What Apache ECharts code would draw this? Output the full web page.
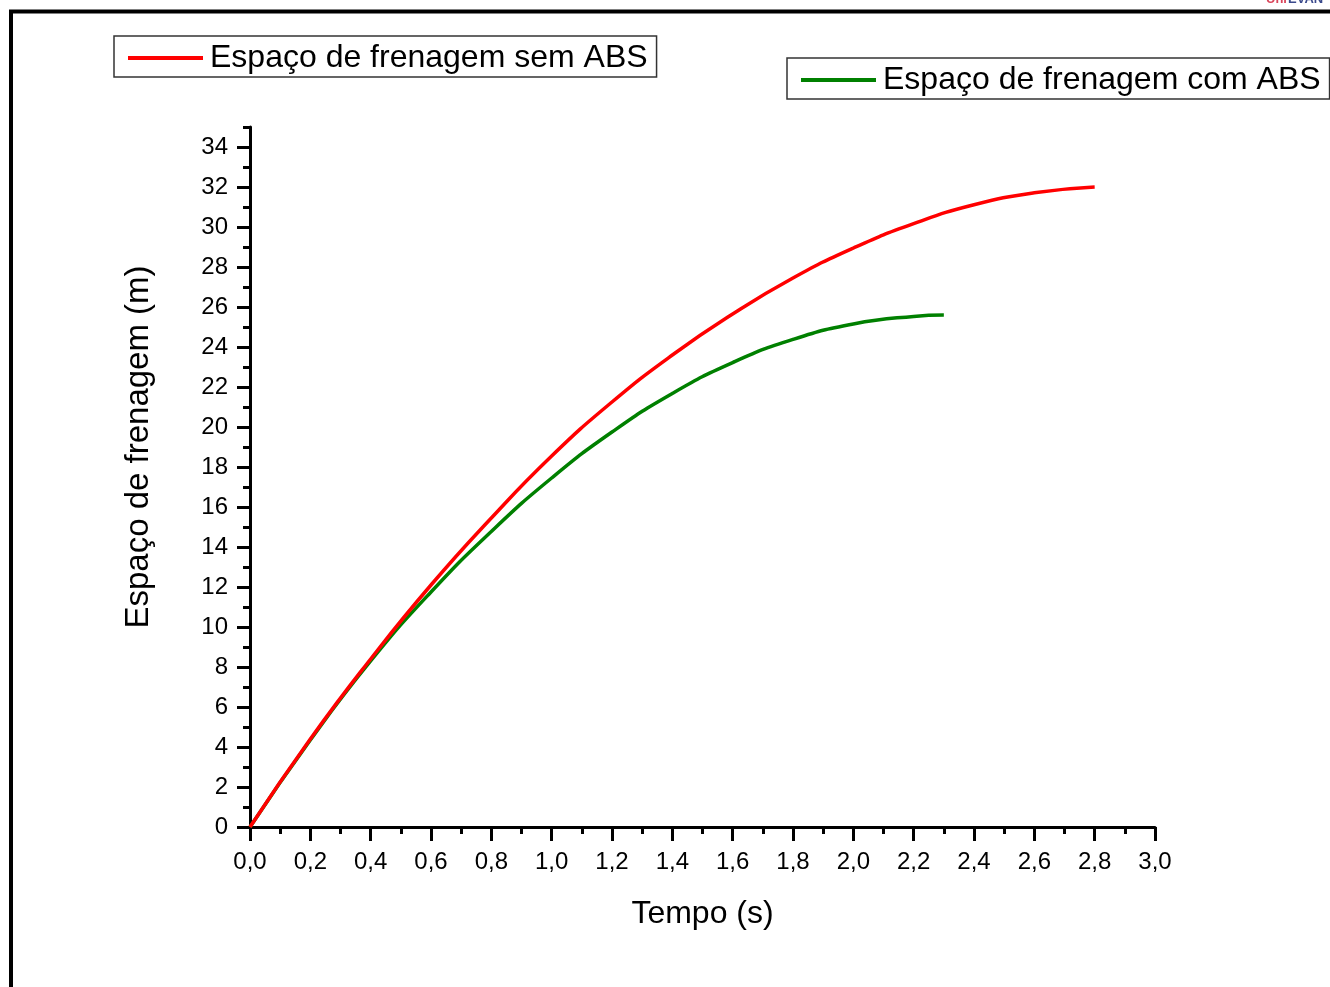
<!DOCTYPE html>
<html>
<head>
<meta charset="utf-8">
<script src="https://cdn.jsdelivr.net/npm/echarts@6/dist/echarts.min.js"></script>
<style>
html,body{margin:0;padding:0;background:#fff;}
#chart{width:1330px;height:987px;}
</style>
</head>
<body>
<div id="chart"></div>
<script>
// ---- data ----
const seriesNames = ['Espaço de frenagem sem ABS', 'Espaço de frenagem com ABS'];
const timeSemABS = [0,0.2,0.4,0.6,0.8,1.0,1.2,1.4,1.6,1.8,2.0,2.2,2.4,2.6,2.8];
const espacoSemABS = [0,4.4,8.4,12.1,15.45,18.55,21.25,23.6,25.65,27.45,28.95,30.17,31.11,31.71,32.0];
const timeComABS = [0,0.2,0.4,0.6,0.8,1.0,1.2,1.4,1.6,1.8,2.0,2.2,2.3];
const espacoComABS = [0,4.35,8.3,11.75,14.78,17.45,19.75,21.68,23.22,24.38,25.15,25.53,25.6];
const xTicks = [0,0.2,0.4,0.6,0.8,1.0,1.2,1.4,1.6,1.8,2.0,2.2,2.4,2.6,2.8,3.0];
const yTicks = [0,2,4,6,8,10,12,14,16,18,20,22,24,26,28,30,32,34];
const xTitle = 'Tempo (s)';
const yTitle = 'Espaço de frenagem (m)';

const semData = timeSemABS.map((t,i)=>[t, espacoSemABS[i]]);
const comData = timeComABS.map((t,i)=>[t, espacoComABS[i]]);

const chart = echarts.init(document.getElementById('chart'));
const FONT = '"Liberation Sans", Arial, sans-serif';
const legendCommon = {
  orient: 'horizontal',
  icon: 'rect',
  itemWidth: 75,
  itemHeight: 4,
  borderColor: '#333',
  borderWidth: 1.5,
  borderRadius: 0,
  padding: [5, 9, 2, 14],
  backgroundColor: '#fff',
  textStyle: {fontFamily: FONT, fontSize: 32, color: '#000', lineHeight: 34, padding: [0,0,0,2]},
  selectedMode: false
};
chart.setOption({
  backgroundColor: '#fff',
  animation: false,
  grid: {left: 250, right: 175, top: 127, bottom: 160, containLabel: false, outerBoundsMode: 'none'},
  legend: [
    Object.assign({}, legendCommon, {left: 114, top: 36, data: [seriesNames[0]]}),
    Object.assign({}, legendCommon, {left: 787, top: 58, data: [seriesNames[1]]})
  ],
  xAxis: {
    type: 'value', min: 0, max: 3, interval: 0.2,
    name: xTitle, nameLocation: 'middle', nameGap: 71,
    nameTextStyle: {fontFamily: FONT, fontSize: 32, color: '#000'},
    axisLine: {show: true, onZero: false, lineStyle: {color: '#000', width: 3}},
    axisTick: {show: true, inside: false, length: 14, lineStyle: {color: '#000', width: 3}},
    minorTick: {show: true, splitNumber: 2, length: 7, lineStyle: {color: '#000', width: 3}},
    axisLabel: {fontFamily: FONT, fontSize: 24, color: '#000', margin: 23,
      customValues: xTicks,
      formatter: v => v.toFixed(1).replace('.', ',')},
    splitLine: {show: false}
  },
  yAxis: [
    {
      type: 'value', min: 0, max: 35, interval: 2,
      name: yTitle, nameLocation: 'middle', nameGap: 95, nameRotate: 90,
      nameTextStyle: {fontFamily: FONT, fontSize: 33, color: '#000', padding: [0, 0, 0, 60]},
      axisLine: {show: true, onZero: false, lineStyle: {color: '#000', width: 3}},
      axisTick: {show: true, length: 13, customValues: yTicks, lineStyle: {color: '#000', width: 3}},
      axisLabel: {fontFamily: FONT, fontSize: 24, color: '#000', margin: 22, customValues: yTicks},
      splitLine: {show: false}
    },
    {
      type: 'value', min: 0, max: 35, interval: 1, position: 'left',
      axisLine: {show: false},
      axisTick: {show: true, length: 7, lineStyle: {color: '#000', width: 3}},
      axisLabel: {show: false},
      splitLine: {show: false}
    }
  ],
  series: [
    {name: seriesNames[0], type: 'line', data: semData, smooth: 0.5, showSymbol: false,
     yAxisIndex: 0, lineStyle: {color: '#ff0000', width: 3.5}, itemStyle: {color: '#ff0000'}, z: 3},
    {name: seriesNames[1], type: 'line', data: comData, smooth: 0.5, showSymbol: false,
     yAxisIndex: 0, lineStyle: {color: '#008000', width: 3.5}, itemStyle: {color: '#008000'}, z: 2}
  ],
  graphic: [
    {type: 'rect', silent: true, shape: {x: 11, y: 11.5, width: 1500, height: 1200},
     style: {fill: 'none', stroke: '#000', lineWidth: 4}},
    {type: 'text', silent: true, x: 1266, y: -7,
     style: {text: 'Uni', fill: '#d9455a', font: 'bold 13px ' + FONT}},
    {type: 'text', silent: true, x: 1288, y: -7,
     style: {text: 'EVAN', fill: '#3b4a8c', font: 'bold 13px ' + FONT}}
  ]
});
</script>
</body>
</html>
